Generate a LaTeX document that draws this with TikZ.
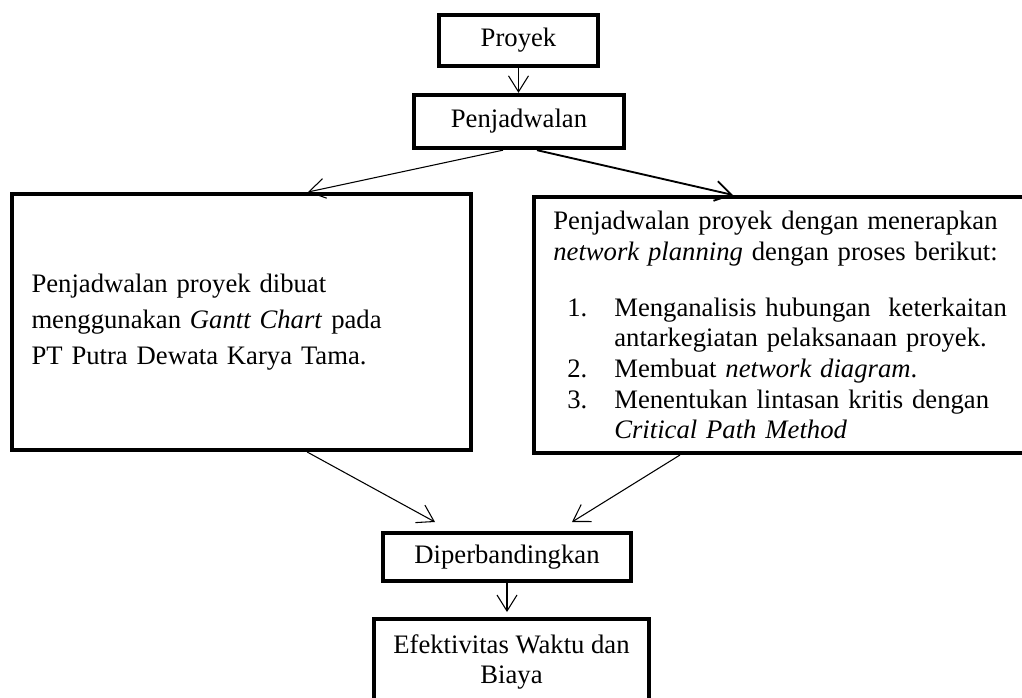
\documentclass[tikz,border=0pt]{standalone}
\usepackage{fontspec}
\setmainfont{Liberation Serif}
\usetikzlibrary{arrows.meta,calc}
\tikzset{
  kotak/.style={draw, rectangle, line width=3pt, inner ysep=0pt, inner xsep=14.5pt},
  panah/.style={-{Straight Barb[length=12pt,width=15pt]}, line width=0.8pt}
}
\newcommand{\nomor}[1]{\hspace*{10.5pt}\makebox[35.25pt][l]{#1}}

\begin{document}
\begin{tikzpicture}[x=0.75pt, y=-0.75pt, font=\fontsize{20}{23}\selectfont]
  \useasboundingbox (0,0) rectangle (1022,697);
  \clip (0,0) rectangle (1022,697);

  \node[kotak, minimum width=119pt, minimum height=38pt] (proyek) at (518.5,40.5) {Proyek};
  \node[kotak, minimum width=157.5pt, minimum height=40pt] (jadwal) at (519,121.5) {Penjadwalan};
  \node[kotak, minimum width=344pt, minimum height=192pt, text width=315pt, align=left,
        font=\fontsize{20}{27}\selectfont] (gantt) at (241.5,322)
        {Penjadwalan proyek dibuat\\
         menggunakan \textit{Gantt Chart} pada\\
         PT Putra Dewata Karya Tama.\par\vspace*{19pt}};
  \node[kotak, minimum width=393pt, minimum height=192pt, text width=364pt, align=left] (cpm) at (796,325)
        {Penjadwalan proyek dengan menerapkan\\
         \textit{network planning} dengan proses berikut:\\[19pt]
         \nomor{1.}Menganalisis hubungan\ \ keterkaitan\\
         \hspace*{45.75pt}antarkegiatan pelaksanaan proyek.\\
         \nomor{2.}Membuat \textit{network diagram}.\\
         \nomor{3.}Menentukan lintasan kritis dengan\\
         \hspace*{45.75pt}\textit{Critical Path Method}};
  \node[kotak, minimum width=186pt, minimum height=36pt] (banding) at (507,557) {Diperbandingkan};
  \node[kotak, minimum width=205pt, minimum height=64.5pt, align=center,
        font=\fontsize{20}{22.5}\selectfont] (efek) at (511.5,662) {Efektivitas Waktu dan\\ Biaya};

  \draw[panah] (proyek.south) -- (proyek.south |- jadwal.north);
  \draw[panah] ($(jadwal.south)+(-16,0)$) -- ($(gantt.north)+(66.5,0)$);
  \draw[panah, line width=1.4pt] ($(jadwal.south)+(18,0)$) -- ($(cpm.north west)+(201,0)$);
  \draw[panah] ($(gantt.south west)+(297,0)$) -- ($(banding.north)+(-72,-9)$);
  \draw[panah] ($(cpm.south west)+(148,0)$) -- ($(banding.north)+(65,-9)$);
  \draw[panah] (banding.south) -- ($(banding.south |- efek.north)+(0,-5)$);
\end{tikzpicture}
\end{document}
